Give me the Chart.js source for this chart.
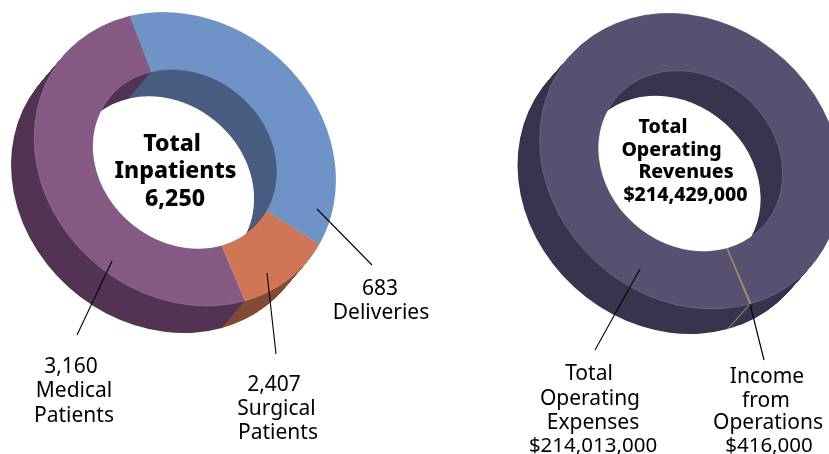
<!DOCTYPE html>
<html>
<head>
<meta charset="utf-8">
<script src="https://cdn.jsdelivr.net/npm/chart.js@4"></script>
<style>
html, body { margin: 0; padding: 0; background: #fff; overflow: hidden; }
#wrap { position: relative; width: 829px; height: 454px; overflow: hidden; }
canvas, svg { position: absolute; left: 0; top: 0; }
text { font-family: "Noto Sans", sans-serif; fill: #000; text-anchor: middle; }
</style>
</head>
<body>
<div id="wrap">
  <canvas id="inpatients" width="829" height="454"></canvas>
  <canvas id="revenues" width="829" height="454"></canvas>
  <svg id="labels" width="829" height="454"></svg>
</div>
<script>
// values
const inpatientCategories = ["Surgical Patients", "Deliveries", "Medical Patients"];
const inpatientValues = [2407, 683, 3160];
const revenueCategories = ["Total Operating Expenses", "Income from Operations"];
const revenueValues = [214013000, 416000];

const inpatientTop = ["#6d93c7", "#d07556", "#845a85"];
const inpatientSide = ["#485d80", "#844b36", "#533455"];
const revenueTop = ["#585071", "#ab9156"];
const revenueSide = ["#3a344f", "#8f8160"];

// [text, x, baseline, font size, weight]
const textLines = [
    ["Total", 172, 151, 23, 800],
    ["Inpatients", 175.5, 178, 23, 800],
    ["6,250", 175, 206, 23, 800],
    ["683", 380, 295, 21, 400],
    ["Deliveries", 381, 319, 21, 400],
    ["3,160", 71, 373, 21, 400],
    ["Medical", 74, 397, 21, 400],
    ["Patients", 74, 422, 21, 400],
    ["2,407", 274, 391, 21, 400],
    ["Surgical", 276.5, 415, 21, 400],
    ["Patients", 278, 439, 21, 400],
    ["Total", 663, 133, 19.5, 800],
    ["Operating", 671.5, 156, 19.5, 800],
    ["Revenues", 686, 178, 19.5, 800],
    ["$214,429,000", 685.5, 201, 19.5, 800],
    ["Total", 589, 380, 21, 400],
    ["Operating", 590, 405, 21, 400],
    ["Expenses", 593, 429, 21, 400],
    ["$214,013,000", 593, 452, 20.5, 400],
    ["Income", 767, 383, 21, 400],
    ["from", 766, 407, 21, 400],
    ["Operations", 768, 429, 21, 400],
    ["$416,000", 769, 452, 20.5, 400]
];

// fake 3d: squash the ring with a matrix and stack darker copies below it
const tilted = {
    id: "tilted",
    place(chart, ctx) {
        const o = chart.options.plugins.tilted;
        const arc = chart.getDatasetMeta(0).data[0];
        const m = o.matrix.map(v => v / arc.outerRadius);
        ctx.translate(o.cx, o.cy);
        ctx.transform(m[0], m[1], m[1], m[2], 0, 0);
        ctx.translate(-arc.x, -arc.y);
    },
    beforeDatasetsDraw(chart) {
        const o = chart.options.plugins.tilted;
        const ctx = chart.ctx;
        const arcs = chart.getDatasetMeta(0).data;
        for (let i = o.depth; i >= 1; i--) {
            ctx.save();
            ctx.translate(o.dx * i / o.depth, o.dy * i / o.depth);
            this.place(chart, ctx);
            arcs.forEach(function(arc, k) {
                const real = arc.options;
                const dark = Object.create(real);
                dark.backgroundColor = o.side[k];
                dark.borderWidth = 0;
                arc.options = dark;
                arc.draw(ctx);
                arc.options = real;
            });
            ctx.restore();
        }
        ctx.save();
        this.place(chart, ctx);
    },
    afterDatasetsDraw(chart) {
        chart.ctx.restore();
        const ctx = chart.ctx;
        ctx.strokeStyle = "#000";
        ctx.lineWidth = 1.1;
        chart.options.plugins.tilted.leaders.forEach(function(l) {
            ctx.beginPath();
            ctx.moveTo(l[0], l[1]);
            ctx.lineTo(l[2], l[3]);
            ctx.stroke();
        });
    }
};

function ring(id, categories, values, top, rotation, place) {
    return new Chart(document.getElementById(id), {
        type: "doughnut",
        plugins: [tilted],
        data: {
            labels: categories,
            datasets: [{
                data: values,
                backgroundColor: top,
                borderWidth: place.borders,
                borderColor: "rgba(255,255,255,0.35)",
                clip: false
            }]
        },
        options: {
            responsive: false,
            animation: false,
            cutout: "61%",
            rotation: rotation,
            layout: { padding: 0 },
            plugins: {
                legend: { display: false },
                tooltip: { enabled: false },
                tilted: place
            }
        }
    });
}

ring("inpatients", inpatientCategories, inpatientValues, inpatientTop, -17.3, {
    cx: 185, cy: 159, matrix: [150.6, 10.7, 146.6],
    dx: -23, dy: 27, depth: 36, side: inpatientSide, borders: 0.6,
    leaders: [[317, 209, 372, 265], [267, 273, 276, 354], [112, 261, 77, 335]]
});

ring("revenues", revenueCategories, revenueValues, revenueTop, 161, {
    cx: 690.5, cy: 161, matrix: [150.6, 10.7, 147.6],
    dx: -22, dy: 25, depth: 34, side: revenueSide, borders: [0.6, 0],
    leaders: [[640, 269, 595, 350], [750, 304, 764, 360]]
});

const svg = document.getElementById("labels");
textLines.forEach(function(line) {
    const t = document.createElementNS("http://www.w3.org/2000/svg", "text");
    t.textContent = line[0];
    t.setAttribute("x", line[1]);
    t.setAttribute("y", line[2]);
    t.setAttribute("font-size", line[3]);
    t.setAttribute("font-weight", line[4]);
    svg.appendChild(t);
});
</script>
</body>
</html>
